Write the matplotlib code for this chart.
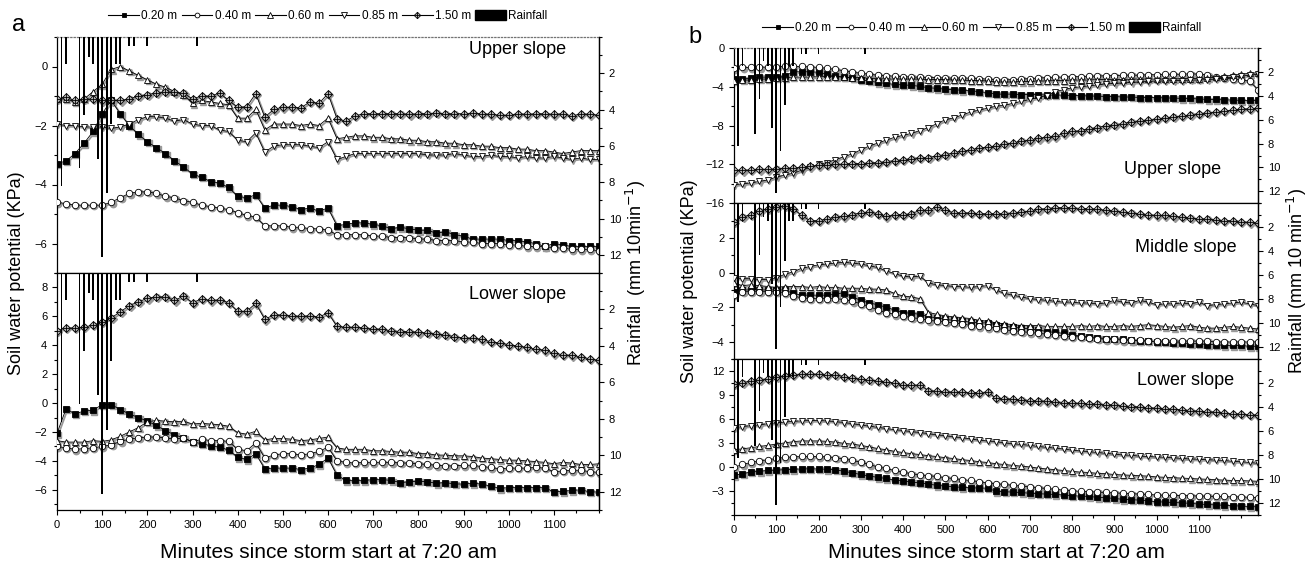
import matplotlib
matplotlib.use("Agg")
import matplotlib.pyplot as plt
from matplotlib import transforms
from matplotlib.lines import Line2D
from matplotlib.patches import Patch
from matplotlib.ticker import MultipleLocator, FixedLocator

plt.rcParams['font.family'] = ['Liberation Sans', 'DejaVu Sans']

# --- time axes (minutes since storm start) ---
t_a = list(range(0, 1201, 20))
t_b = list(range(0, 1241, 20))

# --- rainfall (mm per 10 min) ---
rain_t = [10, 20, 50, 60, 70, 80, 90, 100, 110, 120, 130, 140, 160, 170, 200, 310]
rain_mm = [8.2, 1.5, 7.2, 4.3, 1.1, 1.5, 6.7, 12.1, 8.6, 4.8, 1.5, 1.5, 0.5, 0.5, 0.5, 0.5]

# --- panel a, upper slope ---
a_up_020 = [-3.3, -3.2, -2.95, -2.6, -2.2, -1.6, -1.15, -1.6, -2.0, -2.3,
            -2.55, -2.75, -2.95, -3.2, -3.4, -3.65, -3.75, -3.9, -3.95, -4.1,
            -4.4, -4.45, -4.35, -4.8, -4.7, -4.7, -4.75, -4.85, -4.8, -4.9,
            -4.8, -5.4, -5.35, -5.3, -5.3, -5.35, -5.4, -5.5, -5.45, -5.5,
            -5.55, -5.55, -5.65, -5.6, -5.7, -5.75, -5.85, -5.85, -5.85, -5.85,
            -5.9, -5.9, -5.95, -6.0, -6.1, -6.0, -6.05, -6.1, -6.1, -6.1,
            -6.1]
a_up_040 = [-4.6, -4.65, -4.7, -4.7, -4.7, -4.7, -4.6, -4.45, -4.3, -4.25,
            -4.25, -4.3, -4.4, -4.45, -4.55, -4.6, -4.7, -4.75, -4.8, -4.85,
            -4.95, -5.05, -5.1, -5.4, -5.4, -5.4, -5.45, -5.45, -5.5, -5.5,
            -5.55, -5.7, -5.7, -5.7, -5.7, -5.75, -5.75, -5.8, -5.8, -5.8,
            -5.85, -5.85, -5.9, -5.9, -5.9, -5.95, -5.95, -6.0, -6.0, -6.0,
            -6.05, -6.05, -6.1, -6.1, -6.1, -6.15, -6.15, -6.2, -6.2, -6.2,
            -6.25]
a_up_060 = [-1.1, -1.1, -1.2, -1.1, -0.85, -0.6, -0.1, 0.0, -0.15, -0.3,
            -0.45, -0.6, -0.7, -0.85, -0.95, -1.25, -1.15, -1.2, -1.25, -1.3,
            -1.75, -1.75, -1.45, -2.15, -1.95, -1.95, -1.95, -2.0, -1.95, -2.0,
            -1.75, -2.45, -2.4, -2.35, -2.35, -2.4, -2.4, -2.45, -2.45, -2.5,
            -2.5, -2.55, -2.55, -2.6, -2.6, -2.65, -2.65, -2.7, -2.7, -2.75,
            -2.75, -2.8, -2.8, -2.85, -2.85, -2.9, -2.95, -2.9, -2.85, -2.85,
            -2.85]
a_up_085 = [-1.95, -2.0, -2.0, -2.05, -2.05, -2.05, -2.1, -2.05, -1.95, -1.8,
            -1.7, -1.7, -1.75, -1.85, -1.8, -1.95, -2.0, -2.0, -2.15, -2.2,
            -2.5, -2.55, -2.25, -2.9, -2.7, -2.65, -2.65, -2.65, -2.7, -2.75,
            -2.55, -3.15, -3.05, -2.95, -2.95, -2.95, -2.95, -2.95, -2.95, -2.95,
            -2.95, -3.0, -3.0, -3.0, -2.95, -3.0, -3.05, -3.05, -3.0, -3.05,
            -3.05, -3.1, -3.05, -3.1, -3.1, -3.05, -3.1, -3.15, -3.1, -3.15,
            -3.15]
a_up_150 = [-1.1, -1.05, -1.15, -1.1, -1.1, -1.15, -1.15, -1.15, -1.1, -1.0,
            -0.95, -0.9, -0.85, -0.88, -0.9, -1.1, -1.0, -1.0, -0.9, -1.15,
            -1.38, -1.36, -0.92, -1.72, -1.45, -1.38, -1.38, -1.4, -1.2, -1.25,
            -0.92, -1.78, -1.85, -1.67, -1.6, -1.6, -1.6, -1.6, -1.6, -1.62,
            -1.6, -1.6, -1.58, -1.6, -1.6, -1.6, -1.58, -1.6, -1.62, -1.65,
            -1.65, -1.6, -1.62, -1.6, -1.6, -1.62, -1.6, -1.68, -1.6, -1.62,
            -1.65]

# --- panel a, lower slope (no 0.85 m record) ---
a_lo_020 = [-2.1, -0.4, -0.75, -0.55, -0.5, -0.1, -0.1, -0.45, -0.75, -1.0,
            -1.25, -1.55, -1.9, -2.2, -2.4, -2.7, -2.8, -2.95, -3.05, -3.25,
            -3.75, -3.9, -3.5, -4.55, -4.5, -4.5, -4.5, -4.6, -4.5, -4.25,
            -3.8, -5.0, -5.35, -5.35, -5.35, -5.3, -5.3, -5.35, -5.5, -5.45,
            -5.4, -5.45, -5.55, -5.5, -5.6, -5.6, -5.55, -5.6, -5.75, -5.9,
            -5.85, -5.85, -5.85, -5.85, -5.85, -6.15, -6.1, -6.05, -6.0, -6.15,
            -6.15]
a_lo_040 = [-3.0, -3.1, -3.2, -3.15, -3.1, -3.0, -2.9, -2.65, -2.5, -2.4,
            -2.35, -2.35, -2.4, -2.5, -2.4, -2.7, -2.5, -2.6, -2.6, -2.65,
            -3.2, -3.3, -2.75, -3.8, -3.6, -3.5, -3.5, -3.6, -3.5, -3.35,
            -3.05, -4.0, -4.1, -4.15, -4.1, -4.1, -4.1, -4.1, -4.15, -4.15,
            -4.2, -4.25, -4.3, -4.35, -4.35, -4.3, -4.3, -4.4, -4.45, -4.55,
            -4.5, -4.5, -4.5, -4.45, -4.5, -4.75, -4.7, -4.65, -4.65, -4.75,
            -4.8]
a_lo_060 = [-2.6, -2.7, -2.7, -2.7, -2.6, -2.65, -2.55, -2.3, -2.0, -1.7,
            -1.3, -1.2, -1.25, -1.3, -1.25, -1.45, -1.4, -1.45, -1.5, -1.6,
            -2.05, -2.15, -1.95, -2.55, -2.45, -2.45, -2.5, -2.6, -2.55, -2.45,
            -2.35, -3.1, -3.2, -3.2, -3.2, -3.3, -3.3, -3.35, -3.4, -3.4,
            -3.5, -3.5, -3.6, -3.6, -3.65, -3.65, -3.7, -3.8, -3.85, -3.9,
            -3.95, -3.95, -4.0, -4.05, -4.1, -4.2, -4.1, -4.15, -4.25, -4.25,
            -4.2]
a_lo_150 = [5.0, 5.2, 5.2, 5.25, 5.4, 5.6, 5.9, 6.3, 6.75, 7.0,
            7.25, 7.35, 7.35, 7.1, 7.4, 6.95, 7.2, 7.1, 7.15, 6.95,
            6.35, 6.35, 6.9, 5.8, 6.1, 6.1, 6.05, 6.0, 6.05, 5.95,
            6.25, 5.3, 5.25, 5.25, 5.2, 5.15, 5.1, 5.0, 4.95, 4.95,
            4.9, 4.85, 4.8, 4.7, 4.6, 4.5, 4.5, 4.4, 4.25, 4.15,
            4.05, 3.95, 3.85, 3.75, 3.65, 3.45, 3.35, 3.3, 3.2, 3.05,
            2.95]

# --- panel b, upper slope ---
b_up_020 = [-3.2, -3.2, -3.1, -3.0, -3.0, -2.95, -2.9, -2.45, -2.45, -2.45,
            -2.5, -2.7, -2.9, -3.0, -3.1, -3.3, -3.4, -3.55, -3.65, -3.75,
            -3.8, -3.85, -3.95, -4.1, -4.15, -4.25, -4.3, -4.35, -4.4, -4.5,
            -4.6, -4.75, -4.75, -4.75, -4.8, -4.8, -4.8, -4.85, -4.85, -4.85,
            -4.9, -4.9, -4.95, -4.95, -5.0, -5.0, -5.05, -5.05, -5.1, -5.1,
            -5.1, -5.15, -5.15, -5.2, -5.2, -5.25, -5.3, -5.3, -5.35, -5.35,
            -5.4, -5.4, -5.4]
b_up_040 = [-2.1, -2.0, -2.0, -2.0, -1.95, -1.95, -1.9, -1.9, -1.9, -1.95,
            -2.0, -2.1, -2.2, -2.35, -2.5, -2.6, -2.7, -2.8, -2.85, -2.9,
            -2.95, -3.0, -3.0, -3.05, -3.05, -3.1, -3.1, -3.1, -3.1, -3.15,
            -3.2, -3.3, -3.3, -3.25, -3.2, -3.15, -3.1, -3.05, -3.0, -3.0,
            -2.95, -2.95, -2.9, -2.9, -2.85, -2.85, -2.8, -2.8, -2.8, -2.75,
            -2.75, -2.7, -2.7, -2.7, -2.65, -2.7, -2.75, -3.0, -3.1, -3.2,
            -3.3, -3.4, -4.3]
b_up_060 = [-3.4, -3.3, -3.3, -3.2, -3.2, -3.1, -3.05, -3.0, -3.0, -3.0,
            -2.95, -2.95, -2.95, -3.0, -3.05, -3.05, -3.1, -3.15, -3.2, -3.2,
            -3.2, -3.2, -3.2, -3.25, -3.25, -3.25, -3.3, -3.3, -3.35, -3.35,
            -3.4, -3.5, -3.5, -3.5, -3.45, -3.45, -3.4, -3.4, -3.35, -3.35,
            -3.3, -3.3, -3.3, -3.25, -3.25, -3.25, -3.25, -3.2, -3.2, -3.2,
            -3.2, -3.2, -3.2, -3.15, -3.15, -3.15, -3.1, -3.0, -2.9, -2.8,
            -2.7, -2.6, -2.55]
b_up_085 = [-14.1, -14.0, -13.9, -13.75, -13.6, -13.3, -13.1, -12.9, -12.6, -12.3,
            -12.0, -11.8, -11.5, -11.2, -10.9, -10.5, -10.1, -9.8, -9.5, -9.2,
            -9.0, -8.8, -8.5, -8.2, -7.8, -7.4, -7.2, -6.9, -6.6, -6.4,
            -6.2, -6.0, -5.9, -5.7, -5.5, -5.3, -5.1, -4.9, -4.5, -4.3,
            -4.1, -4.0, -3.9, -3.8, -3.7, -3.65, -3.6, -3.55, -3.5, -3.45,
            -3.4, -3.4, -3.35, -3.35, -3.3, -3.3, -3.25, -3.2, -3.1, -3.0,
            -2.9, -2.8, -2.7]
b_up_150 = [-12.6, -12.6, -12.55, -12.5, -12.5, -12.45, -12.4, -12.35, -12.3, -12.2,
            -12.1, -12.05, -12.0, -11.95, -11.9, -11.9, -11.85, -11.8, -11.7, -11.6,
            -11.5, -11.4, -11.3, -11.3, -11.1, -11.0, -10.8, -10.6, -10.5, -10.3,
            -10.2, -10.1, -9.9, -9.8, -9.6, -9.5, -9.3, -9.2, -9.1, -8.8,
            -8.6, -8.5, -8.3, -8.2, -8.0, -7.9, -7.8, -7.6, -7.5, -7.4,
            -7.3, -7.2, -7.1, -7.0, -6.9, -6.75, -6.7, -6.6, -6.5, -6.4,
            -6.3, -6.25, -6.2]

# --- panel b, middle slope ---
b_mid_020 = [-1.1, -1.0, -1.0, -1.0, -1.0, -1.0, -1.0, -1.2, -1.3, -1.3,
             -1.3, -1.3, -1.25, -1.15, -1.4, -1.6, -1.75, -1.85, -2.0, -2.15,
             -2.3, -2.35, -2.4, -2.55, -2.6, -2.7, -2.75, -2.8, -2.85, -2.9,
             -2.9, -3.0, -3.1, -3.15, -3.2, -3.25, -3.3, -3.4, -3.45, -3.5,
             -3.6, -3.65, -3.7, -3.75, -3.8, -3.8, -3.85, -3.9, -3.95, -3.95,
             -4.0, -4.0, -4.05, -4.05, -4.1, -4.1, -4.15, -4.15, -4.2, -4.2,
             -4.2, -4.25, -4.25]
b_mid_040 = [-1.3, -1.1, -1.1, -1.1, -1.1, -1.1, -1.15, -1.35, -1.45, -1.5,
             -1.5, -1.5, -1.5, -1.55, -1.65, -1.8, -1.95, -2.15, -2.3, -2.4,
             -2.5, -2.6, -2.65, -2.75, -2.8, -2.85, -2.9, -2.95, -3.05, -3.1,
             -3.15, -3.2, -3.3, -3.35, -3.4, -3.45, -3.5, -3.55, -3.6, -3.65,
             -3.7, -3.7, -3.75, -3.8, -3.85, -3.85, -3.9, -3.9, -3.9, -3.95,
             -3.95, -3.95, -3.95, -3.95, -3.95, -3.95, -3.95, -4.0, -4.0, -4.0,
             -4.0, -4.0, -4.0]
b_mid_060 = [-0.6, -0.75, -0.7, -0.75, -0.8, -0.85, -0.8, -0.8, -0.8, -0.85,
             -0.8, -0.85, -0.85, -0.9, -0.9, -0.9, -0.95, -0.95, -1.0, -1.2,
             -1.35, -1.4, -1.5, -2.3, -2.4, -2.5, -2.55, -2.6, -2.65, -2.75,
             -2.8, -2.9, -2.95, -3.0, -3.05, -3.05, -3.05, -3.1, -3.1, -3.1,
             -3.1, -3.05, -3.1, -3.05, -3.1, -3.1, -3.05, -3.1, -3.05, -3.0,
             -3.05, -3.1, -3.15, -3.1, -3.05, -3.15, -3.2, -3.2, -3.15, -3.1,
             -3.15, -3.2, -3.25]
b_mid_085 = [-0.3, -0.35, -0.35, -0.4, -0.4, -0.3, -0.1, 0.05, 0.25, 0.35,
             0.45, 0.5, 0.55, 0.6, 0.55, 0.5, 0.4, 0.3, 0.1, -0.05,
             -0.2, -0.25, -0.2, -0.6, -0.7, -0.75, -0.8, -0.8, -0.85, -0.8,
             -0.75, -1.0, -1.2, -1.3, -1.4, -1.5, -1.55, -1.6, -1.65, -1.7,
             -1.7, -1.75, -1.75, -1.8, -1.75, -1.6, -1.7, -1.75, -1.6, -1.7,
             -1.85, -1.8, -1.8, -1.75, -1.8, -1.7, -1.9, -1.85, -1.8, -1.75,
             -1.7, -1.8, -1.9]
b_mid_150 = [2.95, 3.2, 3.35, 3.55, 3.7, 3.8, 3.85, 3.7, 3.3, 3.0,
             3.0, 3.1, 3.2, 3.25, 3.35, 3.45, 3.5, 3.4, 3.25, 3.35,
             3.35, 3.4, 3.6, 3.6, 3.8, 3.6, 3.45, 3.45, 3.45, 3.4,
             3.4, 3.4, 3.4, 3.45, 3.5, 3.55, 3.65, 3.7, 3.75, 3.75,
             3.75, 3.7, 3.7, 3.65, 3.6, 3.55, 3.5, 3.45, 3.4, 3.35,
             3.3, 3.3, 3.25, 3.2, 3.15, 3.1, 3.1, 3.05, 3.0, 3.0,
             2.95, 2.9, 2.85]

# --- panel b, lower slope ---
b_lo_020 = [-1.0, -0.8, -0.6, -0.5, -0.4, -0.35, -0.3, -0.25, -0.2, -0.2,
            -0.2, -0.25, -0.3, -0.5, -0.7, -0.9, -1.1, -1.25, -1.4, -1.6,
            -1.7, -1.85, -1.95, -2.1, -2.25, -2.35, -2.45, -2.5, -2.55, -2.6,
            -2.6, -3.0, -3.05, -3.1, -3.15, -3.25, -3.3, -3.35, -3.4, -3.45,
            -3.55, -3.6, -3.65, -3.75, -3.8, -3.9, -4.0, -4.05, -4.1, -4.2,
            -4.3, -4.35, -4.4, -4.45, -4.5, -4.6, -4.65, -4.7, -4.75, -4.8,
            -4.85, -4.9, -4.95]
b_lo_040 = [0.0, 0.35, 0.6, 0.8, 0.95, 1.1, 1.25, 1.3, 1.35, 1.35,
            1.35, 1.3, 1.2, 1.05, 0.85, 0.65, 0.35, 0.05, -0.15, -0.4,
            -0.6, -0.8, -0.95, -1.05, -1.15, -1.3, -1.4, -1.55, -1.65, -1.8,
            -1.95, -2.05, -2.15, -2.25, -2.35, -2.45, -2.55, -2.65, -2.75, -2.85,
            -2.95, -3.0, -3.05, -3.1, -3.15, -3.2, -3.25, -3.3, -3.35, -3.4,
            -3.45, -3.5, -3.5, -3.55, -3.55, -3.6, -3.6, -3.65, -3.65, -3.7,
            -3.7, -3.75, -3.8]
b_lo_060 = [2.2, 2.3, 2.45, 2.6, 2.75, 2.9, 3.05, 3.2, 3.3, 3.3,
            3.3, 3.25, 3.15, 3.0, 2.9, 2.75, 2.55, 2.35, 2.2, 2.0,
            1.85, 1.7, 1.6, 1.45, 1.35, 1.2, 1.1, 0.95, 0.85, 0.7,
            0.6, 0.45, 0.35, 0.25, 0.15, 0.05, -0.1, -0.2, -0.3, -0.4,
            -0.5, -0.6, -0.65, -0.75, -0.8, -0.9, -0.95, -1.0, -1.05, -1.1,
            -1.2, -1.25, -1.3, -1.35, -1.4, -1.45, -1.5, -1.55, -1.6, -1.65,
            -1.65, -1.7, -1.75]
b_lo_085 = [4.9, 5.1, 5.2, 5.3, 5.45, 5.55, 5.65, 5.75, 5.8, 5.85,
            5.85, 5.8, 5.7, 5.6, 5.45, 5.3, 5.15, 5.0, 4.85, 4.7,
            4.6, 4.45, 4.35, 4.2, 4.05, 3.95, 3.8, 3.7, 3.55, 3.4,
            3.3, 3.2, 3.05, 2.95, 2.85, 2.75, 2.6, 2.5, 2.4, 2.3,
            2.15, 2.05, 1.95, 1.85, 1.75, 1.65, 1.55, 1.5, 1.4, 1.35,
            1.3, 1.25, 1.2, 1.1, 1.05, 1.0, 0.95, 0.9, 0.85, 0.75,
            0.7, 0.6, 0.5]
b_lo_150 = [10.4, 10.6, 10.75, 10.9, 11.1, 11.3, 11.45, 11.6, 11.65, 11.65,
            11.65, 11.6, 11.55, 11.35, 11.15, 11.0, 10.9, 10.8, 10.7, 10.55,
            10.3, 10.25, 10.3, 9.6, 9.5, 9.45, 9.4, 9.4, 9.35, 9.35,
            9.4, 8.65, 8.6, 8.5, 8.45, 8.35, 8.3, 8.25, 8.2, 8.1,
            8.05, 8.0, 7.95, 7.9, 7.85, 7.8, 7.7, 7.6, 7.55, 7.45,
            7.4, 7.3, 7.25, 7.2, 7.1, 7.0, 6.95, 6.9, 6.8, 6.7,
            6.65, 6.6, 6.5]

W, H = 1312, 564
fig = plt.figure(figsize=(W / 100, H / 100), dpi=100)

def box(x0, x1, y0, y1):
    # pixel box (top-left origin) -> figure fraction rect
    return [x0 / W, 1 - y1 / H, (x1 - x0) / W, (y1 - y0) / H]

styles = {
    '0.20': dict(marker='s', mfc='k', ms=4.0),
    '0.40': dict(marker='o', mfc='white', ms=4.6),
    '0.60': dict(marker='^', mfc='white', ms=5.0),
    '0.85': dict(marker='v', mfc='white', ms=5.0),
    '1.50': dict(marker='D', mfc='0.72', ms=4.4),
}

def draw(ax, t, v, key):
    st = styles[key]
    shadow = ax.transData + transforms.ScaledTranslation(0.013, -0.013, fig.dpi_scale_trans)
    ax.plot(t, v, color='0.6', lw=1.3, marker=st['marker'], ms=st['ms'],
            mfc='0.6', mec='0.6', transform=shadow, zorder=2)
    ax.plot(t, v, color='k', lw=0.6, marker=st['marker'], ms=st['ms'],
            mfc=st['mfc'], mec='k', mew=0.6, zorder=3)
    if key == '1.50':
        ax.plot(t, v, ls='none', marker='+', ms=st['ms'] * 1.15, mec='k', mew=0.6, zorder=4)

def setup(ax, xmax, ylim, yticks, yminor, bottom, top_dotted):
    ax.set_xlim(0, xmax)
    ax.set_ylim(*ylim)
    ax.yaxis.set_major_locator(FixedLocator(yticks))
    ax.yaxis.set_minor_locator(MultipleLocator(yminor))
    ax.xaxis.set_major_locator(FixedLocator(list(range(0, 1101, 100))))
    ax.xaxis.set_minor_locator(MultipleLocator(50))
    ax.tick_params(which='both', direction='out', labelsize=8, width=0.8)
    ax.tick_params(which='major', length=3.5)
    ax.tick_params(which='minor', length=2)
    if not bottom:
        ax.tick_params(axis='x', which='both', bottom=False, labelbottom=False)
    for s in ax.spines.values():
        s.set_linewidth(0.9)
    if top_dotted:
        ax.spines['top'].set_linestyle(':')
        ax.spines['top'].set_color('0.45')
    ax2 = ax.twinx()
    ax2.bar(rain_t, rain_mm, width=4, color='k', zorder=5)
    ax2.set_ylim(13, 0)
    ax2.yaxis.set_major_locator(FixedLocator([2, 4, 6, 8, 10, 12]))
    ax2.yaxis.set_minor_locator(MultipleLocator(1))
    ax2.tick_params(which='both', direction='out', labelsize=8, width=0.8)
    ax2.tick_params(which='major', length=3.5)
    ax2.tick_params(which='minor', length=2)
    for k in ['top', 'bottom', 'left']:
        ax2.spines[k].set_visible(False)
    ax2.spines['right'].set_linewidth(0.9)
    return ax2

def slope_label(ax, text, x, y):
    ax.text(x, y, text, transform=ax.transAxes, ha='right', va='center', fontsize=13, zorder=6)

# ---------------- panel a ----------------
ax_au = fig.add_axes(box(57, 599, 37, 273))
ax_al = fig.add_axes(box(57, 599, 273, 510))
setup(ax_au, 1200, (-7, 1), [-6, -4, -2, 0], 1, False, True)
setup(ax_al, 1200, (-7.4, 9), [-6, -4, -2, 0, 2, 4, 6, 8], 1, True, False)

for key, v in [('0.20', a_up_020), ('0.40', a_up_040), ('0.60', a_up_060),
               ('0.85', a_up_085), ('1.50', a_up_150)]:
    draw(ax_au, t_a, v, key)
for key, v in [('0.20', a_lo_020), ('0.40', a_lo_040), ('0.60', a_lo_060),
               ('1.50', a_lo_150)]:
    draw(ax_al, t_a, v, key)
slope_label(ax_au, 'Upper slope', 0.94, 0.945)
slope_label(ax_al, 'Lower slope', 0.94, 0.91)

# ---------------- panel b ----------------
ax_bu = fig.add_axes(box(734, 1258, 48, 203.3))
ax_bm = fig.add_axes(box(734, 1258, 203.3, 359.3))
ax_bl = fig.add_axes(box(734, 1258, 359.3, 515.3))
setup(ax_bu, 1240, (-16, 0), [-16, -12, -8, -4, 0], 2, False, True)
setup(ax_bm, 1240, (-5, 4), [-4, -2, 0, 2], 1, False, False)
setup(ax_bl, 1240, (-6, 13.5), [-3, 0, 3, 6, 9, 12], 1.5, True, False)

for key, v in [('0.20', b_up_020), ('0.40', b_up_040), ('0.60', b_up_060),
               ('0.85', b_up_085), ('1.50', b_up_150)]:
    draw(ax_bu, t_b, v, key)
for key, v in [('0.20', b_mid_020), ('0.40', b_mid_040), ('0.60', b_mid_060),
               ('0.85', b_mid_085), ('1.50', b_mid_150)]:
    draw(ax_bm, t_b, v, key)
for key, v in [('0.20', b_lo_020), ('0.40', b_lo_040), ('0.60', b_lo_060),
               ('0.85', b_lo_085), ('1.50', b_lo_150)]:
    draw(ax_bl, t_b, v, key)
slope_label(ax_bu, 'Upper slope', 0.93, 0.215)
slope_label(ax_bm, 'Middle slope', 0.96, 0.715)
slope_label(ax_bl, 'Lower slope', 0.955, 0.865)

# ---------------- legends ----------------
def legend_handles():
    hs = []
    for key in ['0.20', '0.40', '0.60', '0.85']:
        st = styles[key]
        hs.append(Line2D([], [], color='k', lw=0.8, marker=st['marker'], ms=st['ms'] * 0.75,
                         mfc=st['mfc'], mec='k', mew=0.6))
    st = styles['1.50']
    hs.append((Line2D([], [], color='k', lw=0.8, marker='D', ms=st['ms'] * 0.75, mfc='0.72', mec='k', mew=0.6),
               Line2D([], [], ls='none', marker='+', ms=st['ms'] * 0.85, mec='k', mew=0.6)))
    hs.append(Patch(facecolor='k', edgecolor='k'))
    return hs

labels = ['0.20 m', '0.40 m', '0.60 m', '0.85 m', '1.50 m', 'Rainfall']
for cx, cy in [(328, 16), (982, 28)]:
    fig.legend(legend_handles(), labels, loc='center', bbox_to_anchor=(cx / W, 1 - cy / H),
               ncol=6, frameon=False, fontsize=8.5, handlelength=2.6, handleheight=0.9,
               handletextpad=0.2, columnspacing=0.35, borderpad=0)

# ---------------- figure texts ----------------
fig.text(19 / W, 1 - 25 / H, 'a', fontsize=17, ha='center', va='center')
fig.text(695 / W, 1 - 37 / H, 'b', fontsize=17, ha='center', va='center')

fig.text(17 / W, 1 - 273 / H, 'Soil water potential (KPa)', rotation=90,
         fontsize=13, ha='center', va='center')
fig.text(690 / W, 1 - 281 / H, 'Soil water potential (KPa)', rotation=90,
         fontsize=13, ha='center', va='center')
fig.text(636 / W, 1 - 273 / H, 'Rainfall  (mm 10min$^{-1}$)', rotation=90,
         fontsize=13, ha='center', va='center')
fig.text(1297 / W, 1 - 281 / H, 'Rainfall (mm 10 min$^{-1}$)', rotation=90,
         fontsize=13, ha='center', va='center')
fig.text(328 / W, 1 - 552 / H, 'Minutes since storm start at 7:20 am',
         fontsize=15, ha='center', va='center')
fig.text(996 / W, 1 - 552 / H, 'Minutes since storm start at 7:20 am',
         fontsize=15, ha='center', va='center')

fig.savefig('out.png', dpi=100)
